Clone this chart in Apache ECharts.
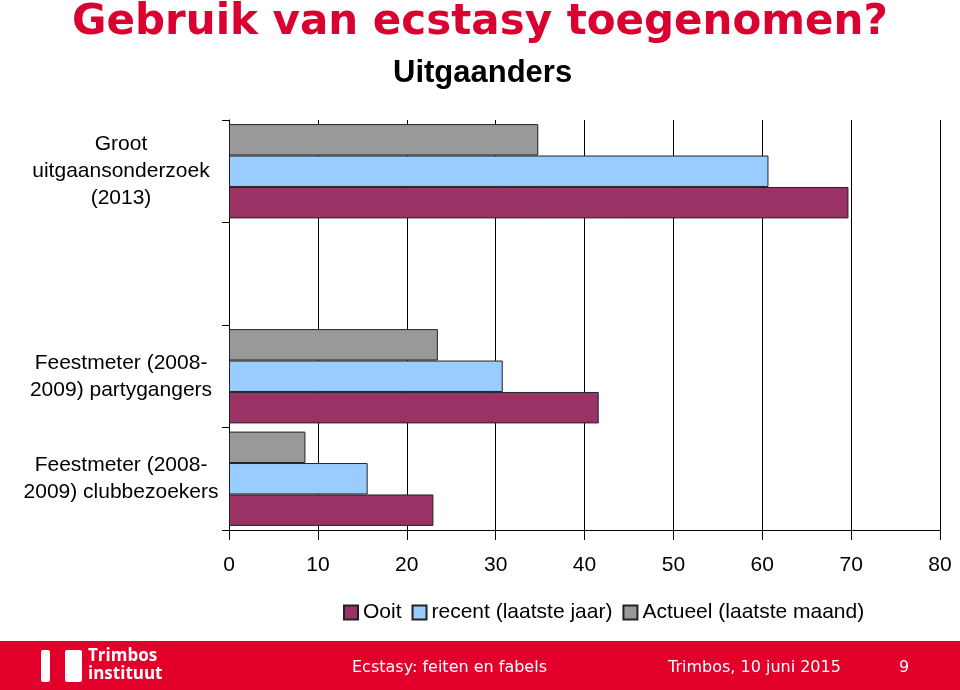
<!DOCTYPE html>
<html>
<head>
<meta charset="utf-8">
<script src="https://cdn.jsdelivr.net/npm/echarts@6/dist/echarts.min.js"></script>
<style>html,body{margin:0;padding:0;background:#fff}#c{width:960px;height:690px}</style>
</head>
<body>
<div id="c"></div>
<script>
const categories = ['Feestmeter (2008-\n2009) clubbezoekers', 'Feestmeter (2008-\n2009) partygangers', '', 'Groot\nuitgaansonderzoek\n(2013)'];
const seriesNames = ['Ooit', 'recent (laatste jaar)', 'Actueel (laatste maand)'];
const ooit = [23.0, 41.6, null, 69.7];
const recent = [15.6, 30.8, null, 60.7];
const actueel = [8.6, 23.5, null, 34.8];
const xTicks = [0, 10, 20, 30, 40, 50, 60, 70, 80];

const colors = ['#993366', '#99CCFF', '#999999'];
const chart = echarts.init(document.getElementById('c'), null, {renderer: 'canvas'});
const mk = (name, data, color) => ({
  name: name, type: 'bar', data: data, barGap: '0%', barCategoryGap: '8%',
  itemStyle: {color: color, borderColor: '#222', borderWidth: 1},
  emphasis: {disabled: true}
});
chart.setOption({
  animation: false,
  title: [
    {text: 'Gebruik van ecstasy toegenomen?', left: 67, top: -3,
     textStyle: {fontFamily: 'DejaVu Sans', fontWeight: 'bold', fontSize: 42, color: '#DA0030'}},
    {text: 'Uitgaanders', left: 393, top: 58, padding: 0,
     textStyle: {fontFamily: 'Liberation Sans', fontWeight: 'bold', fontSize: 31, color: '#000'}}
  ],
  legend: {
    data: seriesNames, left: 338, top: 597, icon: 'rect', itemWidth: 14, itemHeight: 14, itemGap: 10,
    textStyle: {fontFamily: 'Liberation Sans', fontSize: 21, color: '#000'}
  },
  grid: {left: 229, right: 20, top: 120, bottom: 160, containLabel: false},
  xAxis: {
    type: 'value', min: xTicks[0], max: xTicks[xTicks.length - 1], interval: 10,
    axisLine: {show: true, lineStyle: {color: '#000', width: 1}},
    axisTick: {show: true, length: 10, lineStyle: {color: '#000'}},
    axisLabel: {margin: 25, fontFamily: 'Liberation Sans', fontSize: 21, color: '#000'},
    splitLine: {show: true, lineStyle: {color: '#000', width: 1}}
  },
  yAxis: {
    type: 'category', data: categories,
    axisLine: {show: true, lineStyle: {color: '#000', width: 1}},
    axisTick: {show: true, length: 7, interval: 0, lineStyle: {color: '#000'}},
    axisLabel: {margin: 108, align: 'center', fontFamily: 'Liberation Sans', fontSize: 21, lineHeight: 27, color: '#000'},
    splitLine: {show: false}
  },
  series: [mk(seriesNames[2], actueel, colors[2]), mk(seriesNames[1], recent, colors[1]), mk(seriesNames[0], ooit, colors[0])],
  graphic: [
    {type: 'rect', left: 0, top: 641, shape: {width: 960, height: 49}, style: {fill: '#E2002B'}, silent: true},
    {type: 'rect', left: 41, top: 650, shape: {width: 9, height: 32, r: 2}, style: {fill: '#fff'}},
    {type: 'rect', left: 65, top: 650, shape: {width: 17, height: 32, r: 2}, style: {fill: '#fff'}},
    {type: 'text', left: 88, top: 647, style: {text: 'Trimbos\ninstituut', fill: '#fff', font: 'bold 17px "Open Sans"', lineHeight: 18}},
    {type: 'text', left: 352, top: 660, style: {text: 'Ecstasy: feiten en fabels', fill: '#fff', font: '16px "DejaVu Sans"'}},
    {type: 'text', left: 668, top: 660, style: {text: 'Trimbos, 10 juni 2015', fill: '#fff', font: '16px "DejaVu Sans"'}},
    {type: 'text', left: 899, top: 660, style: {text: '9', fill: '#fff', font: '16px "DejaVu Sans"'}}
  ]
});
</script>
</body>
</html>
